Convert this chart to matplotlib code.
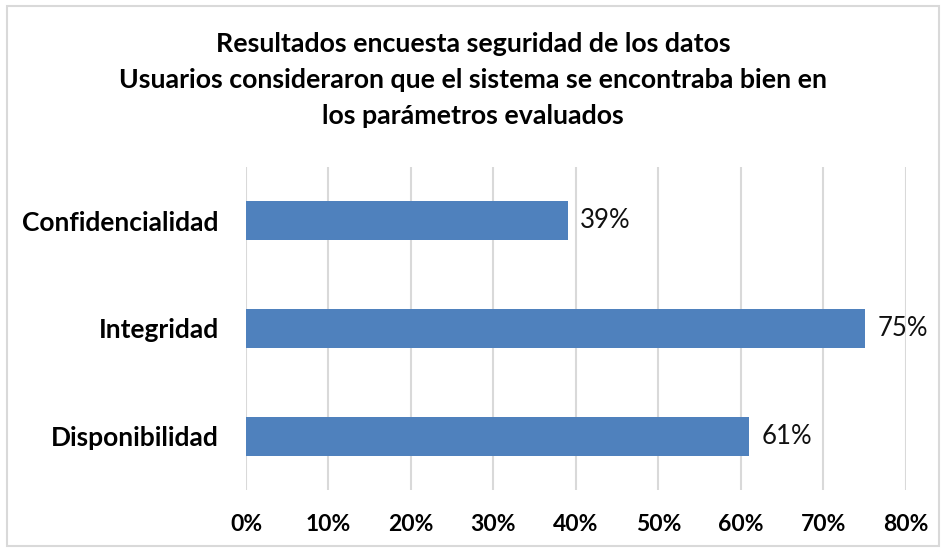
import matplotlib.pyplot as plt
from matplotlib.patches import Rectangle
from matplotlib.ticker import PercentFormatter

plt.rcParams['font.family'] = ['Lato', 'DejaVu Sans']

# datos de la encuesta
categorias = ['Disponibilidad', 'Integridad', 'Confidencialidad']
valores = [61, 75, 39]
ticks_x = [0, 10, 20, 30, 40, 50, 60, 70, 80]

titulo = ('Resultados encuesta seguridad de los datos\n'
          'Usuarios consideraron que el sistema se encontraba bien en\n'
          'los parámetros evaluados')

fig = plt.figure(figsize=(9.46, 5.5), dpi=100)
ax = fig.add_axes([0.26, 0.1091, 0.6977, 0.5873])

barras = ax.barh(categorias, valores, height=0.36, color='#4F81BD', zorder=3)
ax.bar_label(barras, labels=[f'{v}%' for v in valores], padding=9,
             fontsize=18.5, color='#111111')

ax.set_xlim(0, 80)
ax.set_ylim(-0.5, 2.5)
ax.set_xticks(ticks_x)
ax.xaxis.set_major_formatter(PercentFormatter(decimals=0))
ax.grid(axis='x', color='#D9D9D9', linewidth=1.5, zorder=0)
for s in ax.spines.values():
    s.set_visible(False)
ax.tick_params(length=0, labelsize=16.5)
ax.tick_params(axis='x', pad=17.5)
ax.tick_params(axis='y', pad=19.5)
for t in ax.get_xticklabels():
    t.set_fontweight('bold')
ax.set_yticks(range(len(categorias)))
ax.set_yticklabels(categorias, fontsize=19, fontweight='bold')

fig.text(0.5, 0.942, titulo, ha='center', va='top', fontsize=19.3,
         fontweight='bold', linespacing=1.6)

# borde del grafico
fig.patches.append(Rectangle((7 / 946, 4 / 550), 932 / 946, 540 / 550,
                             transform=fig.transFigure, fill=False,
                             edgecolor='#D9D9D9', linewidth=1.5))

fig.savefig('out.png', dpi=100)
